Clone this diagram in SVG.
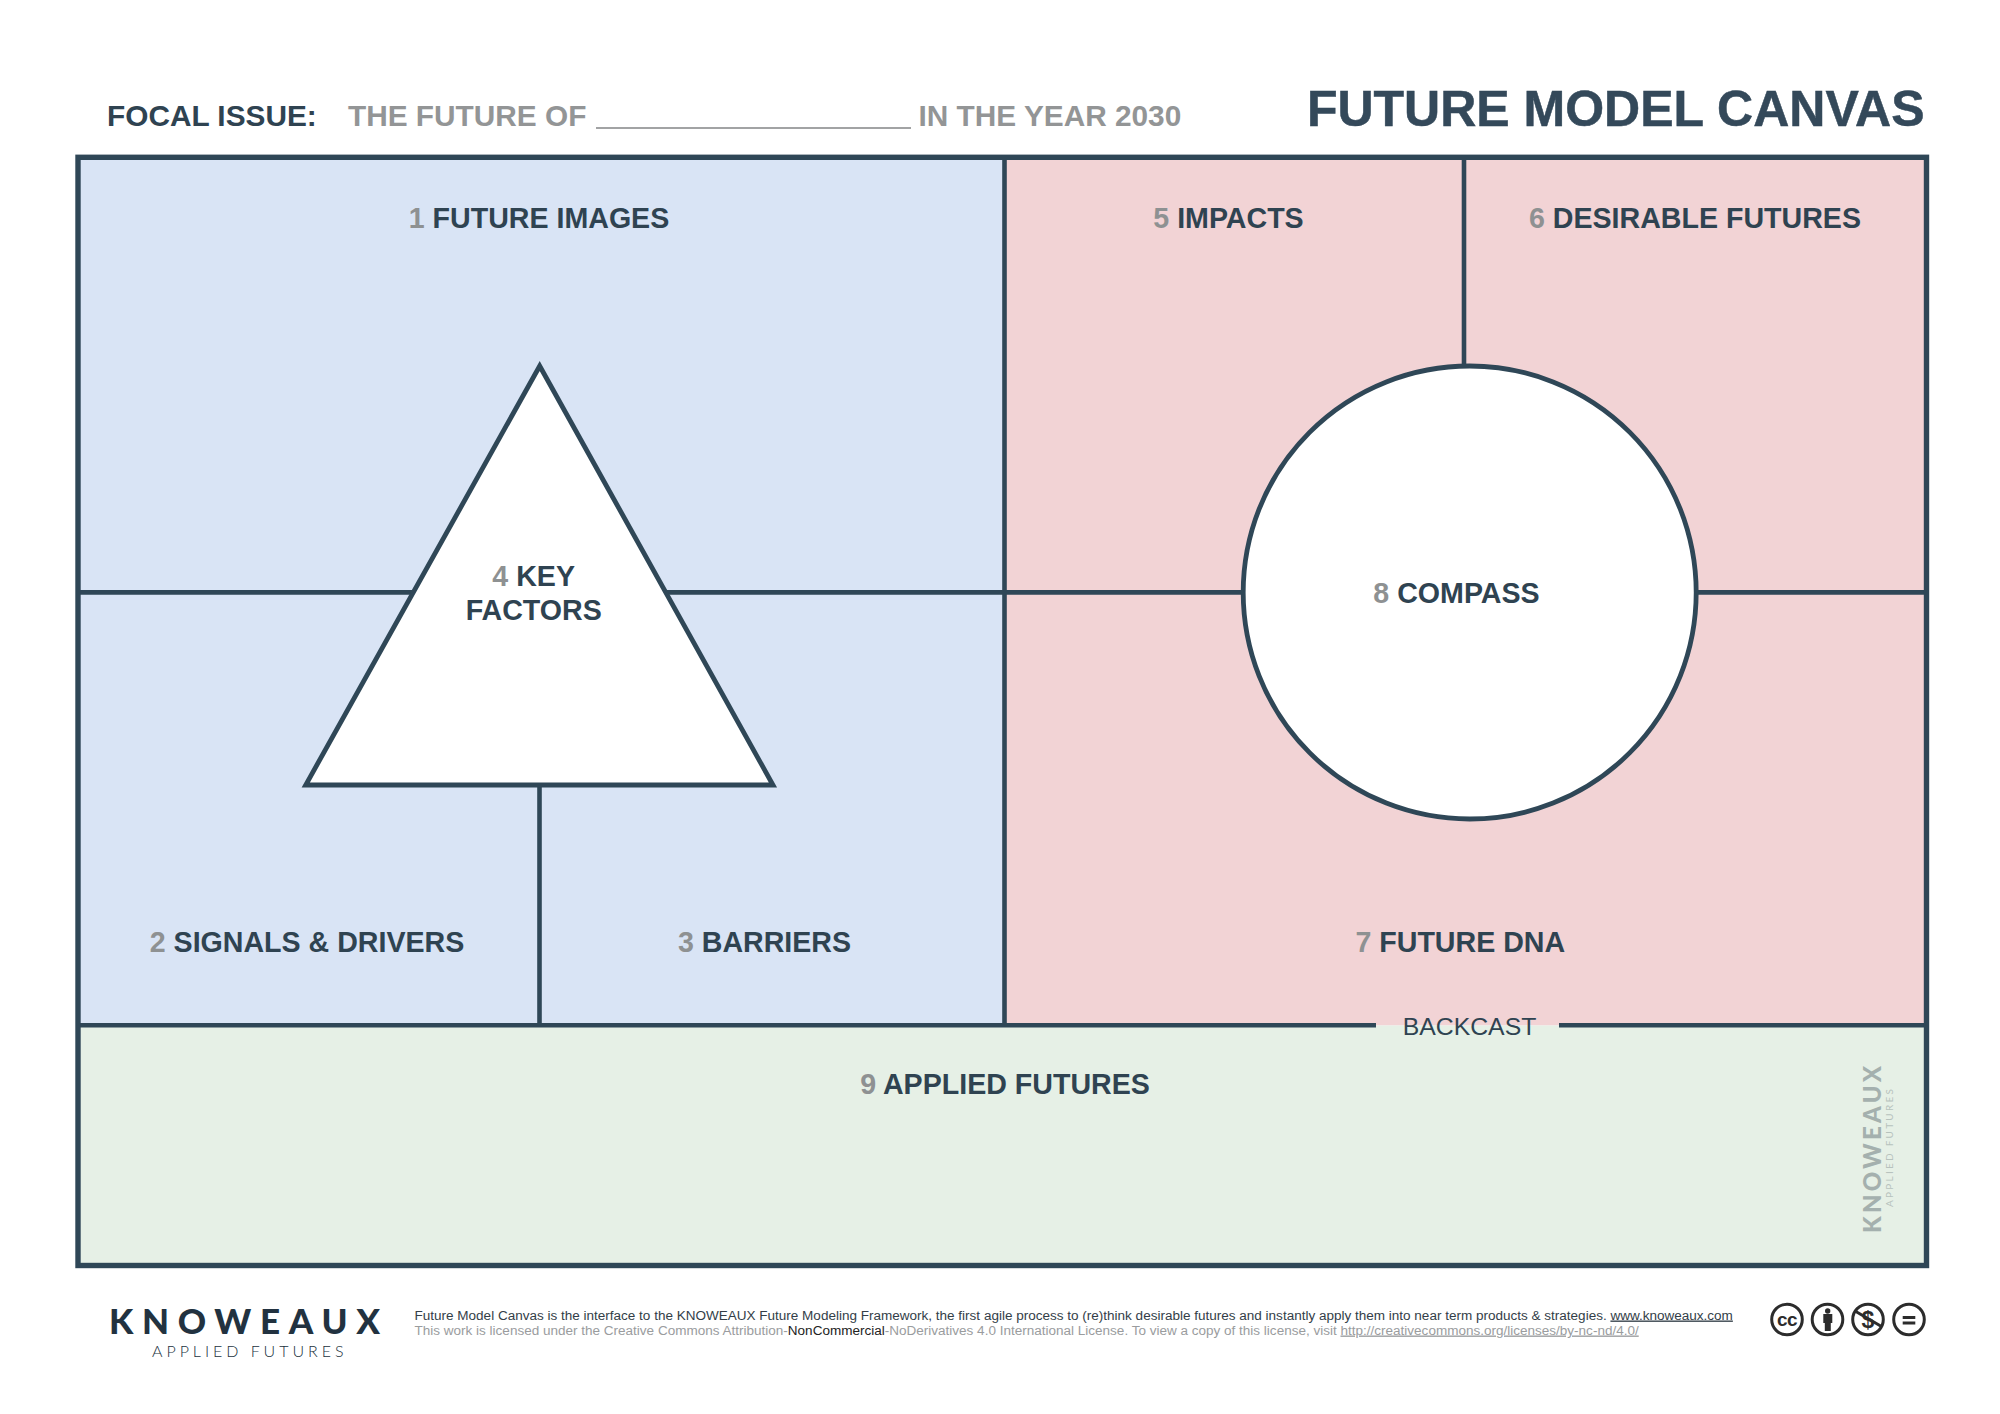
<svg xmlns="http://www.w3.org/2000/svg" width="2000" height="1414" viewBox="0 0 2000 1414">
<style>
text{font-family:"Liberation Sans",Arial,sans-serif}
.l{font-size:28.6px;font-weight:700;fill:#2f4351;text-anchor:middle}
.n{fill:#8e9192}
.g{font-size:29.8px;font-weight:700;fill:#939596}
.ln{fill:none;stroke:#2f4757;stroke-width:4.6}
.f1{font-size:13.52px;fill:#333e48}
.f2{font-size:13.52px;fill:#9a9c9e}
.ic{fill:none;stroke:#2c2c2c;stroke-width:3}
.lato{font-family:Lato,sans-serif}
</style>
<rect width="2000" height="1414" fill="#fff"/>
<g id="header">
<text x="107" y="126" font-size="29.8" font-weight="700" fill="#2f4351">FOCAL ISSUE:</text>
<text x="348" y="126" class="g">THE FUTURE OF</text>
<rect x="596" y="127" width="315" height="2" fill="#a2a3a4"/>
<text x="918.500" y="126" class="g">IN THE YEAR 2030</text>
<text x="1924.500" y="126" font-size="50" font-weight="700" fill="#34495a" stroke="#34495a" stroke-width="0.5" text-anchor="end">FUTURE MODEL CANVAS</text>
</g>
<g id="panels">
<rect id="blue" x="78" y="157" width="926.500" height="868.500" fill="#d9e4f5"/>
<rect id="red" x="1004.500" y="157" width="922" height="868.500" fill="#f2d3d5"/>
<rect id="green" x="78" y="1025.500" width="1848.500" height="240" fill="#e6f0e6"/>
</g>
<g id="connectors">
<path class="ln" d="M78 592.400H1926M1004.500 157V1025M1464 157V380M539.500 785V1025M78 1025.300H1376M1559 1025.300H1926"/>
<rect class="ln" style="stroke-width:5.400" x="78" y="157.300" width="1848.500" height="1108.200"/>
</g>
<g id="key-factors">
<polygon points="539.700,366 305.700,785 773,785" fill="#fff" stroke="#2f4757" stroke-width="4.800"/>
<text class="l" x="533.700" y="585.500"><tspan class="n">4</tspan> KEY</text>
<text class="l" x="533.700" y="619.500">FACTORS</text>
</g>
<g id="compass">
<circle cx="1469.700" cy="592.500" r="226.500" fill="#fff" stroke="#2f4757" stroke-width="4.800"/>
<text class="l" x="1456.500" y="603"><tspan class="n">8</tspan> COMPASS</text>
</g>
<g id="future-images"><text class="l" x="539" y="227.500"><tspan class="n">1</tspan> FUTURE IMAGES</text></g>
<g id="signals"><text class="l" x="307" y="951.500"><tspan class="n">2</tspan> SIGNALS &amp; DRIVERS</text></g>
<g id="barriers"><text class="l" x="764.500" y="951.500"><tspan class="n">3</tspan> BARRIERS</text></g>
<g id="impacts"><text class="l" x="1228.500" y="227.500"><tspan class="n">5</tspan> IMPACTS</text></g>
<g id="desirable"><text class="l" x="1695" y="227.500"><tspan class="n">6</tspan> DESIRABLE FUTURES</text></g>
<g id="dna"><text class="l" x="1460.300" y="951.500"><tspan class="n">7</tspan> FUTURE DNA</text></g>
<g id="applied"><text class="l" x="1005" y="1094"><tspan class="n">9</tspan> APPLIED FUTURES</text></g>
<g id="backcast"><text x="1469.500" y="1035" font-size="24.800" fill="#2f4351" text-anchor="middle">BACKCAST</text></g>
<g id="watermark" transform="translate(1881,1233) rotate(-90)">
<text class="lato" x="0" y="0" font-size="24" font-weight="900" letter-spacing="3.300" fill="#a4b0ae">KNOWEAUX</text>
<text class="lato" x="26" y="12" font-size="10" letter-spacing="2.250" fill="#b7c2bd">APPLIED FUTURES</text>
</g>
<g id="logo">
<text class="lato" x="109" y="1333.500" font-size="35" font-weight="900" letter-spacing="8.700" fill="#223240">KNOWEAUX</text>
<text class="lato" x="152" y="1356.500" font-size="16" font-weight="300" letter-spacing="3.950" fill="#223240">APPLIED FUTURES</text>
</g>
<g id="footer">
<text class="f1" x="414.500" y="1319.500">Future Model Canvas is the interface to the KNOWEAUX Future Modeling Framework, the first agile process to (re)think desirable futures and instantly apply them into near term products &amp; strategies. <tspan text-decoration="underline">www.knoweaux.com</tspan></text>
<text class="f2" x="414.500" y="1334.500">This work is licensed under the Creative Commons Attribution-<tspan fill="#222">NonCommercial</tspan>-NoDerivatives 4.0 International License. To view a copy of this license, visit <tspan text-decoration="underline">http://creativecommons.org/licenses/by-nc-nd/4.0/</tspan></text>
</g>
<g id="cc-icons">
<circle class="ic" cx="1787" cy="1319.500" r="15.300"/>
<text x="1787" y="1326" font-size="19" font-weight="700" letter-spacing="-0.500" fill="#2c2c2c" text-anchor="middle">cc</text>
<circle class="ic" cx="1827.500" cy="1319.500" r="15.300"/>
<circle cx="1827.700" cy="1311" r="2.700" fill="#2c2c2c"/>
<path d="M1823.300 1314h9v9h-1.500v8h-6v-8h-1.500z" fill="#2c2c2c"/>
<circle class="ic" cx="1868" cy="1319.500" r="15.300"/>
<text x="1868" y="1327.500" font-size="23" font-weight="700" fill="#2c2c2c" text-anchor="middle">$</text>
<path class="ic" d="M1855 1311L1881.500 1326.500"/>
<circle class="ic" cx="1909" cy="1319.500" r="15.300"/>
<path d="M1902.700 1316h12.600v3h-12.600zM1902.700 1321.500h12.600v3h-12.600z" fill="#2c2c2c"/>
</g>
</svg>
